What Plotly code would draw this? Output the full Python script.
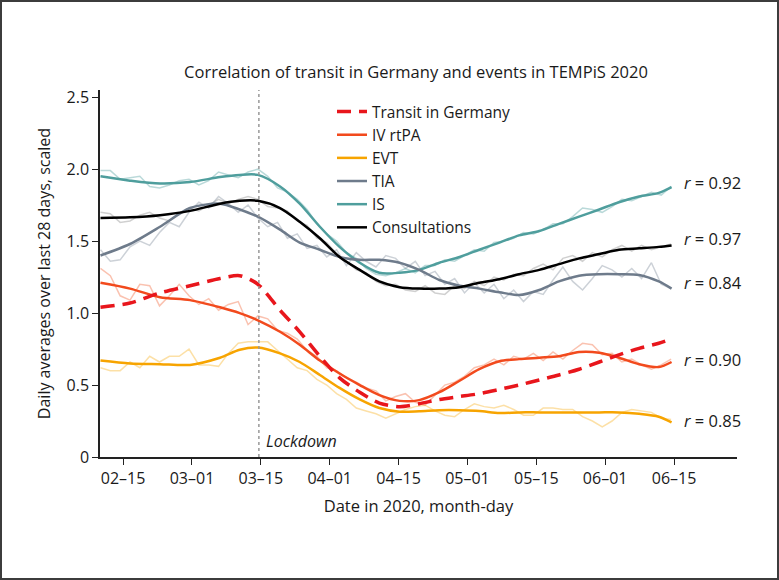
import plotly.graph_objects as go

# ---- data (days relative to 02-15; ticks every 14 days) ----
tick_vals = [0, 14, 28, 42, 56, 70, 84, 98, 112]
tick_text = ["02–15", "03–01", "03–15", "04–01", "04–15", "05–01", "05–15", "06–01", "06–15"]
lockdown_day = 27.6

# smoothed curves
days_smooth = [-4.6, 1.4, 7.5, 13.6, 19.7, 23.7, 27.4, 31.9, 35.9, 40.0, 44.0, 48.1, 52.1, 56.2,
               60.2, 64.3, 68.4, 72.4, 76.5, 80.5, 84.6, 88.6, 92.7, 96.8, 100.8, 104.9, 108.9, 111.5]
transit = [1.04, 1.07, 1.14, 1.19, 1.24, 1.26, 1.20, 1.02, 0.87, 0.70, 0.55, 0.45, 0.375, 0.35,
           0.37, 0.40, 0.42, 0.44, 0.47, 0.50, 0.535, 0.57, 0.61, 0.66, 0.71, 0.755, 0.79, 0.82]
iv_rtpa = [1.21, 1.17, 1.11, 1.09, 1.04, 1.00, 0.95, 0.87, 0.78, 0.67, 0.58, 0.50, 0.43, 0.39,
           0.395, 0.45, 0.53, 0.61, 0.665, 0.68, 0.69, 0.70, 0.73, 0.725, 0.69, 0.645, 0.625, 0.66]
evt = [0.67, 0.65, 0.645, 0.64, 0.69, 0.745, 0.76, 0.72, 0.66, 0.57, 0.48, 0.40, 0.34, 0.315,
       0.318, 0.325, 0.325, 0.32, 0.305, 0.31, 0.31, 0.31, 0.31, 0.31, 0.31, 0.30, 0.28, 0.24]
tia = [1.40, 1.48, 1.60, 1.73, 1.76, 1.72, 1.67, 1.58, 1.49, 1.44, 1.39, 1.37, 1.37, 1.35,
       1.30, 1.23, 1.19, 1.17, 1.145, 1.125, 1.16, 1.22, 1.26, 1.27, 1.27, 1.265, 1.22, 1.17]
is_ = [1.95, 1.92, 1.90, 1.91, 1.945, 1.96, 1.96, 1.88, 1.76, 1.60, 1.46, 1.35, 1.28, 1.28,
       1.30, 1.35, 1.39, 1.44, 1.49, 1.54, 1.57, 1.62, 1.67, 1.72, 1.77, 1.81, 1.835, 1.875]
consult = [1.66, 1.665, 1.68, 1.71, 1.76, 1.78, 1.78, 1.73, 1.635, 1.52, 1.39, 1.30, 1.22, 1.18,
           1.17, 1.17, 1.18, 1.21, 1.235, 1.27, 1.30, 1.34, 1.38, 1.41, 1.44, 1.45, 1.46, 1.47]

# raw (unsmoothed) curves, every 2 days
days_raw = [round(-4.6 + 2 * i, 1) for i in range(59)]
iv_raw = [1.31, 1.26, 1.12, 1.09, 1.20, 1.19, 1.05, 1.12, 1.20, 1.12,
          1.06, 1.10, 1.02, 1.06, 1.08, 0.92, 0.98, 0.96, 0.88, 0.86,
          0.82, 0.74, 0.70, 0.62, 0.60, 0.55, 0.52, 0.48, 0.46, 0.39,
          0.42, 0.44, 0.38, 0.36, 0.43, 0.50, 0.52, 0.56, 0.62, 0.64,
          0.68, 0.64, 0.70, 0.68, 0.72, 0.67, 0.73, 0.68, 0.74, 0.79,
          0.78, 0.71, 0.72, 0.66, 0.68, 0.64, 0.61, 0.64, 0.68]
evt_raw = [0.62, 0.60, 0.60, 0.66, 0.62, 0.70, 0.66, 0.70, 0.70, 0.75,
           0.64, 0.64, 0.63, 0.72, 0.79, 0.80, 0.80, 0.80, 0.74, 0.68,
           0.62, 0.60, 0.54, 0.50, 0.44, 0.40, 0.34, 0.32, 0.30, 0.27,
           0.30, 0.33, 0.35, 0.36, 0.32, 0.29, 0.28, 0.33, 0.37, 0.35,
           0.34, 0.36, 0.33, 0.29, 0.29, 0.34, 0.34, 0.33, 0.33, 0.28,
           0.25, 0.21, 0.25, 0.31, 0.33, 0.32, 0.31, 0.27, 0.26]
tia_raw = [1.44, 1.36, 1.37, 1.46, 1.50, 1.47, 1.56, 1.63, 1.60, 1.70,
           1.77, 1.73, 1.81, 1.76, 1.70, 1.75, 1.66, 1.60, 1.63, 1.52,
           1.55, 1.45, 1.47, 1.39, 1.44, 1.33, 1.42, 1.36, 1.32, 1.40,
           1.38, 1.31, 1.36, 1.26, 1.29, 1.20, 1.24, 1.14, 1.21, 1.14,
           1.20, 1.10, 1.16, 1.08, 1.15, 1.13, 1.23, 1.32, 1.22, 1.16,
           1.24, 1.33, 1.30, 1.25, 1.31, 1.24, 1.35, 1.20, 1.17]
is_raw = [1.99, 1.99, 1.93, 1.94, 1.95, 1.88, 1.87, 1.89, 1.92, 1.93,
          1.89, 1.92, 1.98, 1.96, 1.94, 1.98, 2.00, 1.95, 1.87, 1.84,
          1.79, 1.72, 1.62, 1.55, 1.50, 1.42, 1.38, 1.31, 1.27, 1.26,
          1.28, 1.31, 1.28, 1.33, 1.33, 1.37, 1.36, 1.40, 1.44, 1.43,
          1.49, 1.50, 1.52, 1.56, 1.55, 1.58, 1.62, 1.62, 1.67, 1.73,
          1.72, 1.70, 1.74, 1.79, 1.78, 1.81, 1.84, 1.82, 1.88]
consult_raw = [1.70, 1.69, 1.63, 1.64, 1.68, 1.70, 1.66, 1.64, 1.69, 1.73,
               1.71, 1.75, 1.79, 1.76, 1.79, 1.81, 1.79, 1.74, 1.73, 1.71,
               1.64, 1.61, 1.52, 1.49, 1.41, 1.36, 1.30, 1.28, 1.22, 1.19,
               1.20, 1.16, 1.15, 1.19, 1.14, 1.13, 1.19, 1.17, 1.22, 1.19,
               1.25, 1.23, 1.27, 1.26, 1.31, 1.34, 1.30, 1.38, 1.40, 1.36,
               1.42, 1.39, 1.44, 1.47, 1.43, 1.47, 1.44, 1.46, 1.48]

r_labels = ["0.92", "0.97", "0.84", "0.90", "0.85"]
r_label_y = [1.91, 1.515, 1.215, 0.675, 0.257]

FONT = "Open Sans"
TXT = "#1a1a1a"

fig = go.Figure()

raw_series = [
    (consult_raw, "rgba(120,120,120,0.35)"),
    (tia_raw, "rgba(110,123,139,0.35)"),
    (is_raw, "rgba(74,155,155,0.38)"),
    (evt_raw, "rgba(247,165,0,0.35)"),
    (iv_raw, "rgba(242,80,30,0.35)"),
]
for vals, col in raw_series:
    fig.add_trace(go.Scatter(x=days_raw, y=vals, mode="lines", showlegend=False,
                             hoverinfo="skip", line=dict(color=col, width=1.5)))

smooth_series = [
    ("IS", is_, "#4f9e9d", 5, "solid", 2.5),
    ("TIA", tia, "#6e7b8b", 4, "solid", 2.5),
    ("Consultations", consult, "#000000", 6, "solid", 2.5),
    ("EVT", evt, "#f7a400", 3, "solid", 2.5),
    ("IV rtPA", iv_rtpa, "#f24a1d", 2, "solid", 2.5),
    ("Transit in Germany", transit, "#e8161c", 1, "14px,8px", 3.5),
]
for name, vals, col, rank, dash, w in smooth_series:
    fig.add_trace(go.Scatter(x=days_smooth, y=vals, mode="lines", name=name, legendrank=rank,
                             line=dict(color=col, width=w, dash=dash, shape="spline", smoothing=0.8)))

# lockdown line
fig.add_shape(type="line", x0=lockdown_day, x1=lockdown_day, y0=0, y1=2.55, xref="x", yref="y",
              line=dict(color="#999999", width=1.5, dash="dot"))
fig.add_annotation(x=lockdown_day + 1.0, y=0.11, xref="x", yref="y", text="<i>Lockdown</i>",
                   showarrow=False, xanchor="left", yanchor="middle",
                   font=dict(family=FONT, size=16, color=TXT))

for lab, yv in zip(r_labels, r_label_y):
    fig.add_annotation(x=113.6, y=yv, xref="x", yref="y", text="<i>r</i> = " + lab,
                       showarrow=False, xanchor="left", yanchor="middle",
                       font=dict(family=FONT, size=16.5, color=TXT))

# figure frame
fig.add_shape(type="rect", xref="paper", yref="paper",
              x0=(1 - 100) / 637, x1=(778 - 100) / 637, y0=(457 - 579) / 367, y1=(457 - 1) / 367,
              line=dict(color="#3c3c3c", width=2), fillcolor="rgba(0,0,0,0)", layer="above")

fig.update_layout(
    width=779, height=580,
    margin=dict(l=100, r=42, t=90, b=123),
    paper_bgcolor="white", plot_bgcolor="white",
    font=dict(family=FONT, size=16, color=TXT),
    title=dict(text="Correlation of transit in Germany and events in TEMPiS 2020",
               x=(416 - 100) / 637, xref="paper", xanchor="center",
               y=1 - 72 / 580, yref="container", yanchor="middle",
               font=dict(family=FONT, size=16.5, color=TXT)),
    legend=dict(x=(332 - 100) / 637, y=(457 - 95) / 367, xanchor="left", yanchor="top",
                bgcolor="rgba(0,0,0,0)", font=dict(family=FONT, size=15.5, color=TXT),
                itemwidth=30, tracegroupgap=0),
    showlegend=True,
)
fig.update_xaxes(range=[-4.7, 124.8], tickmode="array", tickvals=tick_vals, ticktext=tick_text,
                 showgrid=False, zeroline=False, showline=True, linecolor="#222", linewidth=1.5,
                 ticks="outside", ticklen=6, tickwidth=1.2, tickcolor="#222",
                 tickfont=dict(family=FONT, size=16, color=TXT),
                 title=dict(text="Date in 2020, month-day", standoff=12,
                            font=dict(family=FONT, size=16.5, color=TXT)))
fig.update_yaxes(range=[0, 2.55], tickmode="array", tickvals=[0, 0.5, 1.0, 1.5, 2.0, 2.5],
                 ticktext=["0", "0.5", "1.0", "1.5", "2.0", "2.5"],
                 showgrid=False, zeroline=False, showline=True, linecolor="#222", linewidth=1.5,
                 ticks="outside", ticklen=6, tickwidth=1.2, tickcolor="#222",
                 tickfont=dict(family=FONT, size=16, color=TXT),
                 title=dict(text="Daily averages over last 28 days, scaled", standoff=12,
                            font=dict(family=FONT, size=16, color=TXT)))

fig.write_html("out.html", config={"displayModeBar": False},
               post_script="document.body.style.margin='0';document.body.style.overflow='hidden';")
